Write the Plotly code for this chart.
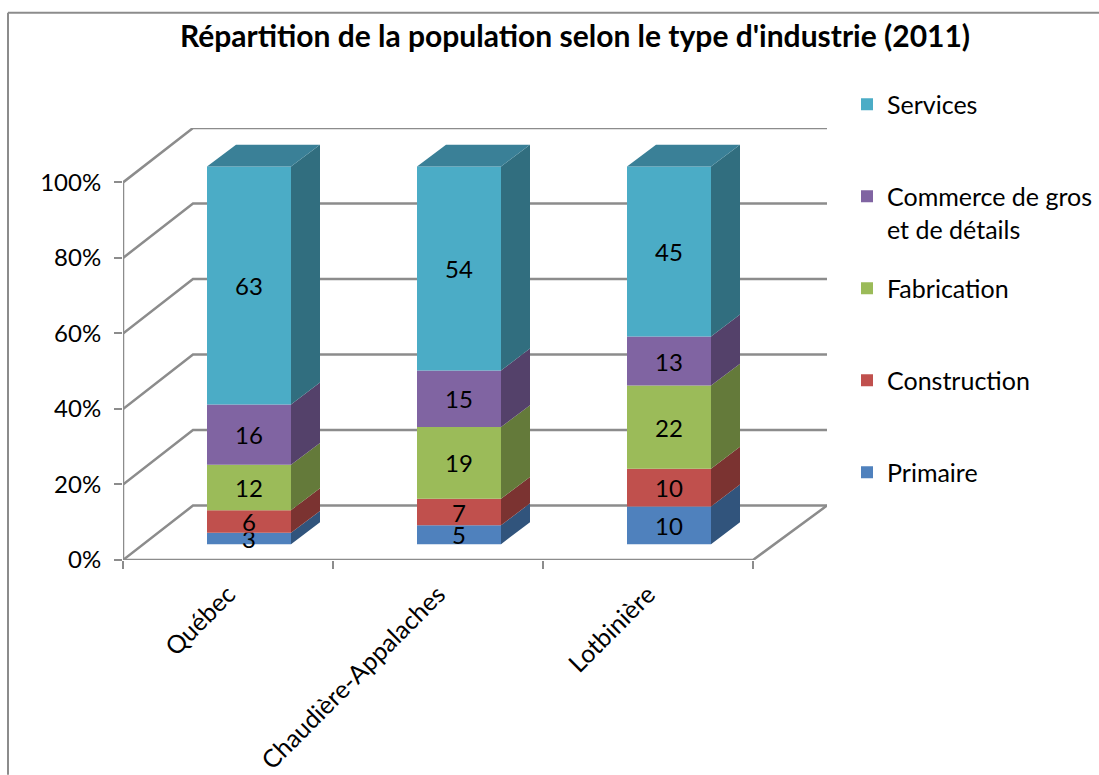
import plotly.graph_objects as go

# ---- data ----
categories = ["Québec", "Chaudière-Appalaches", "Lotbinière"]
series_names = ["Primaire", "Construction", "Fabrication", "Commerce de gros", "Services"]
commerce_second_line = "et de détails"
primaire = [3, 5, 10]
construction = [6, 7, 10]
fabrication = [12, 19, 22]
commerce = [16, 15, 13]
services = [63, 54, 45]
percent_ticks = [0, 20, 40, 60, 80, 100]
percent_labels = ["0%", "20%", "40%", "60%", "80%", "100%"]

# ---- style ----
front_colors = ["#4F81BD", "#C0504D", "#9BBB59", "#8064A2", "#4BACC6"]
side_colors = ["#31547C", "#7B3331", "#647A3A", "#54416A", "#316E7F"]
top_color = "#3A8097"
grid_color = "#8C8C8C"
FONT = "Lato, 'Open Sans', sans-serif"
W, H = 1099, 775
L, R, T, B = 123, 827, 127.5, 560
WALL_DX = 70 / 210      # wall depth in category units
WALL_DY = 54.5 / 3.78   # wall depth in percent units
BAR_SHIFT_X = 0.1
BAR_SHIFT_Y = 4.2
BAR_W = 0.4
BAR_DX = 29 / 210
BAR_DY = 5.8
N = len(categories)
x_range = [0, (R - L) / 210]
y_range = [0, (B - T) / 3.78]
PW, PH = R - L, B - T


def px(x):
    return (x - L) / PW


def py(y):
    return (B - y) / PH


fig = go.Figure()

# walls and floor (drawn in the lower subplot, behind the bars)
wx, wy = [], []
for v in percent_ticks:
    wx += [0, WALL_DX, x_range[1], None]
    wy += [v, v + WALL_DY, v + WALL_DY, None]
fig.add_trace(go.Scatter(x=wx, y=wy, mode="lines", line=dict(color=grid_color, width=2.5),
                         hoverinfo="skip", showlegend=False, xaxis="x", yaxis="y", cliponaxis=False))
fig.add_trace(go.Scatter(x=[0, 0, None, 0, N, x_range[1]],
                         y=[100, 0, None, 0, 0, WALL_DY],
                         mode="lines", line=dict(color=grid_color, width=2.5),
                         hoverinfo="skip", showlegend=False, xaxis="x", yaxis="y", cliponaxis=False))

all_series = [primaire, construction, fabrication, commerce, services]
cum = [0] * N
for k, (name, vals, fc, sc) in enumerate(zip(series_names, all_series, front_colors, side_colors)):
    bx = [i + 0.5 + BAR_SHIFT_X for i in range(N)]
    base = [c + BAR_SHIFT_Y for c in cum]
    fig.add_trace(go.Bar(
        x=bx, y=vals, base=base, width=BAR_W, name=name, legendgroup=name,
        legendrank=100 - k,
        marker=dict(color=fc, line=dict(width=0)),
        text=[str(v) for v in vals], textposition="inside", insidetextanchor="middle",
        constraintext="none", textangle=0, cliponaxis=False,
        textfont=dict(family=FONT, size=24, color="black"),
        hoverinfo="skip", xaxis="x2", yaxis="y2"))
    # right-hand side faces
    sx, sy = [], []
    for i in range(N):
        r = bx[i] + BAR_W / 2
        y0, y1 = base[i], base[i] + vals[i]
        sx += [r, r + BAR_DX, r + BAR_DX, r, r, None]
        sy += [y0, y0 + BAR_DY, y1 + BAR_DY, y1, y0, None]
    fig.add_trace(go.Scatter(x=sx, y=sy, mode="lines", fill="toself", fillcolor=sc,
                             line=dict(width=0, color=sc), hoverinfo="skip",
                             showlegend=False, xaxis="x2", yaxis="y2"))
    cum = [c + v for c, v in zip(cum, vals)]

# top faces
tx, ty = [], []
for i in range(N):
    l = i + 0.5 + BAR_SHIFT_X - BAR_W / 2
    r = l + BAR_W
    y = cum[i] + BAR_SHIFT_Y
    tx += [l, r, r + BAR_DX, l + BAR_DX, l, None]
    ty += [y, y, y + BAR_DY, y + BAR_DY, y, None]
fig.add_trace(go.Scatter(x=tx, y=ty, mode="lines", fill="toself", fillcolor=top_color,
                         line=dict(width=0, color=top_color), hoverinfo="skip",
                         showlegend=False, xaxis="x2", yaxis="y2"))

fig.update_layout(
    width=W, height=H, autosize=False,
    margin=dict(l=L, r=W - R, t=T, b=H - B, pad=0, autoexpand=False),
    paper_bgcolor="white", plot_bgcolor="rgba(0,0,0,0)",
    barmode="overlay",
    font=dict(family=FONT, size=24, color="black"),
    title=dict(text="<b>Répartition de la population selon le type d'industrie (2011)</b>",
               x=575 / W, xanchor="center", y=1 - 36 / H, yanchor="middle",
               font=dict(family=FONT, size=30, color="black")),
    xaxis=dict(range=x_range, tickvals=list(range(N + 1)), ticktext=[""] * (N + 1),
               ticks="outside", ticklen=8, tickwidth=2, tickcolor=grid_color,
               showgrid=False, zeroline=False, showline=False, fixedrange=True),
    yaxis=dict(range=y_range, tickvals=percent_ticks, ticktext=percent_labels,
               ticks="outside", ticklen=8, tickwidth=2, tickcolor=grid_color,
               showgrid=False, zeroline=False, showline=False, fixedrange=True,
               ticklabelstandoff=8, tickfont=dict(family=FONT, size=24)),
    xaxis2=dict(range=x_range, overlaying="x", anchor="y2", side="bottom",
                tickvals=[i + 0.5 for i in range(N)], ticktext=categories,
                tickangle=-45, ticks="", showgrid=False, zeroline=False, showline=False,
                ticklabelstandoff=14, tickfont=dict(family=FONT, size=25), fixedrange=True),
    yaxis2=dict(range=y_range, overlaying="y", anchor="x2", visible=False, fixedrange=True),
    legend=dict(x=px(847), xanchor="left", y=py(81), yanchor="top",
                traceorder="grouped", tracegroupgap=56.5, maxheight=700,
                font=dict(family=FONT, size=25, color="black"),
                bgcolor="rgba(0,0,0,0)", borderwidth=0),
    annotations=[dict(text=commerce_second_line, xref="paper", yref="paper",
                      x=px(885), y=py(229), xanchor="left", yanchor="middle", showarrow=False,
                      font=dict(family=FONT, size=25, color="black"))],
    shapes=[dict(type="line", xref="paper", yref="paper",
                 x0=px(8), x1=px(8), y0=py(H), y1=py(12),
                 line=dict(color=grid_color, width=2)),
            dict(type="line", xref="paper", yref="paper",
                 x0=px(8), x1=px(W), y0=py(12), y1=py(12),
                 line=dict(color=grid_color, width=2))],
)

fig.write_html("out.html", post_script="document.body.style.margin='0';",
               config=dict(displayModeBar=False))
